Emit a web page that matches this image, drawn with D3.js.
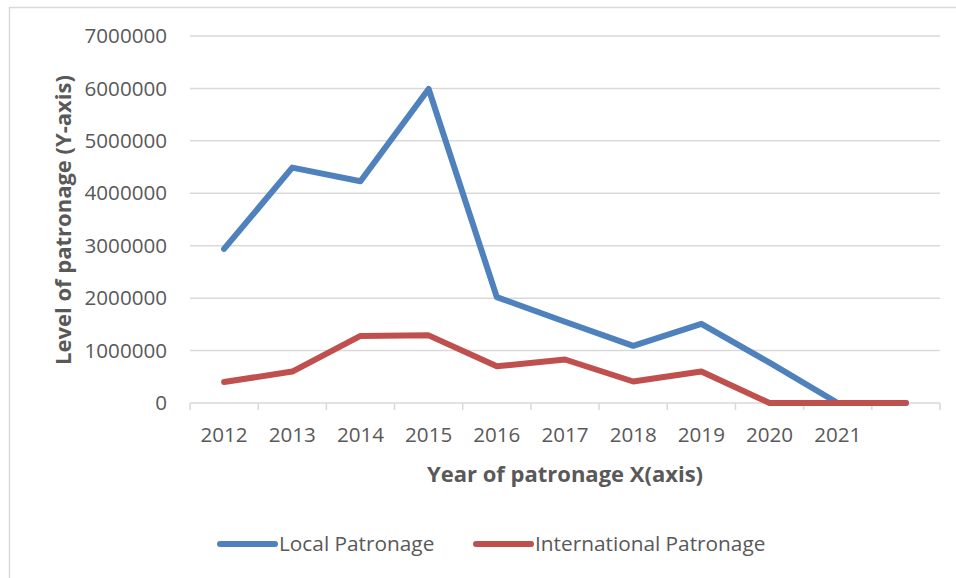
<!DOCTYPE html>
<html>
<head>
<meta charset="utf-8">
<script src="https://cdn.jsdelivr.net/npm/d3@7"></script>
<style>
  html, body { margin: 0; padding: 0; background: #fff; }
  svg { display: block; }
  text { font-family: "Open Sans", sans-serif; fill: #595959; }
</style>
</head>
<body>
<div id="app"></div>
<script>
// ----- Data -----
const years = ["2012", "2013", "2014", "2015", "2016", "2017", "2018", "2019", "2020", "2021", ""];
const localPatronage = [2940000, 4490000, 4230000, 5990000, 2020000, 1550000, 1090000, 1510000, 770000, 0, 0];
const internationalPatronage = [400000, 600000, 1280000, 1290000, 700000, 830000, 410000, 600000, 0, 0, 0];
const yTicks = [0, 1000000, 2000000, 3000000, 4000000, 5000000, 6000000, 7000000];

const seriesNames = ["Local Patronage", "International Patronage"];
const seriesColors = ["#4f81bd", "#c0504d"];

// ----- Main -----
const W = 956, H = 578;
const plot = { left: 190, right: 940, top: 36, bottom: 403 };

const svg = d3.select("#app").append("svg")
    .attr("width", W)
    .attr("height", H);

// chart frame (only top and left edges fall inside the picture)
svg.append("rect")
    .attr("x", 9.5).attr("y", 7.5)
    .attr("width", 1000).attr("height", 1000)
    .attr("fill", "none")
    .attr("stroke", "#d9d9d9")
    .attr("stroke-width", 1.5);

// scales
const x = d3.scaleBand()
    .domain(years.map((d, i) => i))
    .range([plot.left, plot.right])
    .padding(0);

const y = d3.scaleLinear()
    .domain([0, 7000000])
    .range([plot.bottom, plot.top]);

// gridlines
svg.append("g")
    .selectAll("line")
    .data(yTicks.slice(1))
    .enter()
    .append("line")
        .attr("x1", plot.left).attr("x2", plot.right)
        .attr("y1", d => y(d)).attr("y2", d => y(d))
        .attr("stroke", "#d9d9d9")
        .attr("stroke-width", 1.5);

// y axis labels
const yAxis = svg.append("g")
    .attr("transform", `translate(${plot.left}, 0)`)
    .call(d3.axisLeft(y).tickValues(yTicks).tickSize(0).tickPadding(23).tickFormat(d3.format("d")));
yAxis.select(".domain").remove();
yAxis.selectAll("text")
    .attr("font-size", 20.6)
    .attr("font-family", "Open Sans, sans-serif")
    .attr("fill", "#595959");

// x axis: baseline + ticks at category boundaries
const edges = years.map((d, i) => x(i)).concat([x(years.length - 1) + x.bandwidth()]);
svg.append("line")
    .attr("x1", plot.left).attr("x2", plot.right)
    .attr("y1", y(0)).attr("y2", y(0))
    .attr("stroke", "#d9d9d9")
    .attr("stroke-width", 1.5);
svg.append("g")
    .selectAll("line")
    .data(edges)
    .enter()
    .append("line")
        .attr("x1", d => d).attr("x2", d => d)
        .attr("y1", y(0)).attr("y2", y(0) + 7)
        .attr("stroke", "#d9d9d9")
        .attr("stroke-width", 1.5);

const xAxis = svg.append("g")
    .attr("transform", `translate(0, ${y(0)})`)
    .call(d3.axisBottom(x).tickSize(0).tickPadding(24).tickFormat(i => years[i]));
xAxis.select(".domain").remove();
xAxis.selectAll("text")
    .attr("font-size", 20.6)
    .attr("font-family", "Open Sans, sans-serif")
    .attr("fill", "#595959");

// lines
const line = d3.line()
    .x((d, i) => x(i) + x.bandwidth() / 2)
    .y(d => y(d));

[localPatronage, internationalPatronage].forEach((values, k) => {
    svg.append("path")
        .datum(values)
        .attr("fill", "none")
        .attr("stroke", seriesColors[k])
        .attr("stroke-width", 6)
        .attr("stroke-linejoin", "round")
        .attr("stroke-linecap", "round")
        .attr("d", line);
});

// axis titles
svg.append("text")
    .attr("x", 565)
    .attr("y", 482)
    .attr("text-anchor", "middle")
    .attr("font-size", 22)
    .attr("font-weight", "bold")
    .text("Year of patronage X(axis)");

svg.append("text")
    .attr("transform", "translate(71, 220) rotate(-90)")
    .attr("text-anchor", "middle")
    .attr("font-size", 22)
    .attr("font-weight", "bold")
    .text("Level of patronage (Y-axis)");

// legend
const legendX = [220, 476];
const legend = svg.append("g");
seriesNames.forEach((name, k) => {
    legend.append("line")
        .attr("x1", legendX[k]).attr("x2", legendX[k] + 55)
        .attr("y1", 544).attr("y2", 544)
        .attr("stroke", seriesColors[k])
        .attr("stroke-width", 6)
        .attr("stroke-linecap", "round");
    legend.append("text")
        .attr("x", legendX[k] + 59)
        .attr("y", 551)
        .attr("font-size", 20.8)
        .text(name);
});
</script>
</body>
</html>
